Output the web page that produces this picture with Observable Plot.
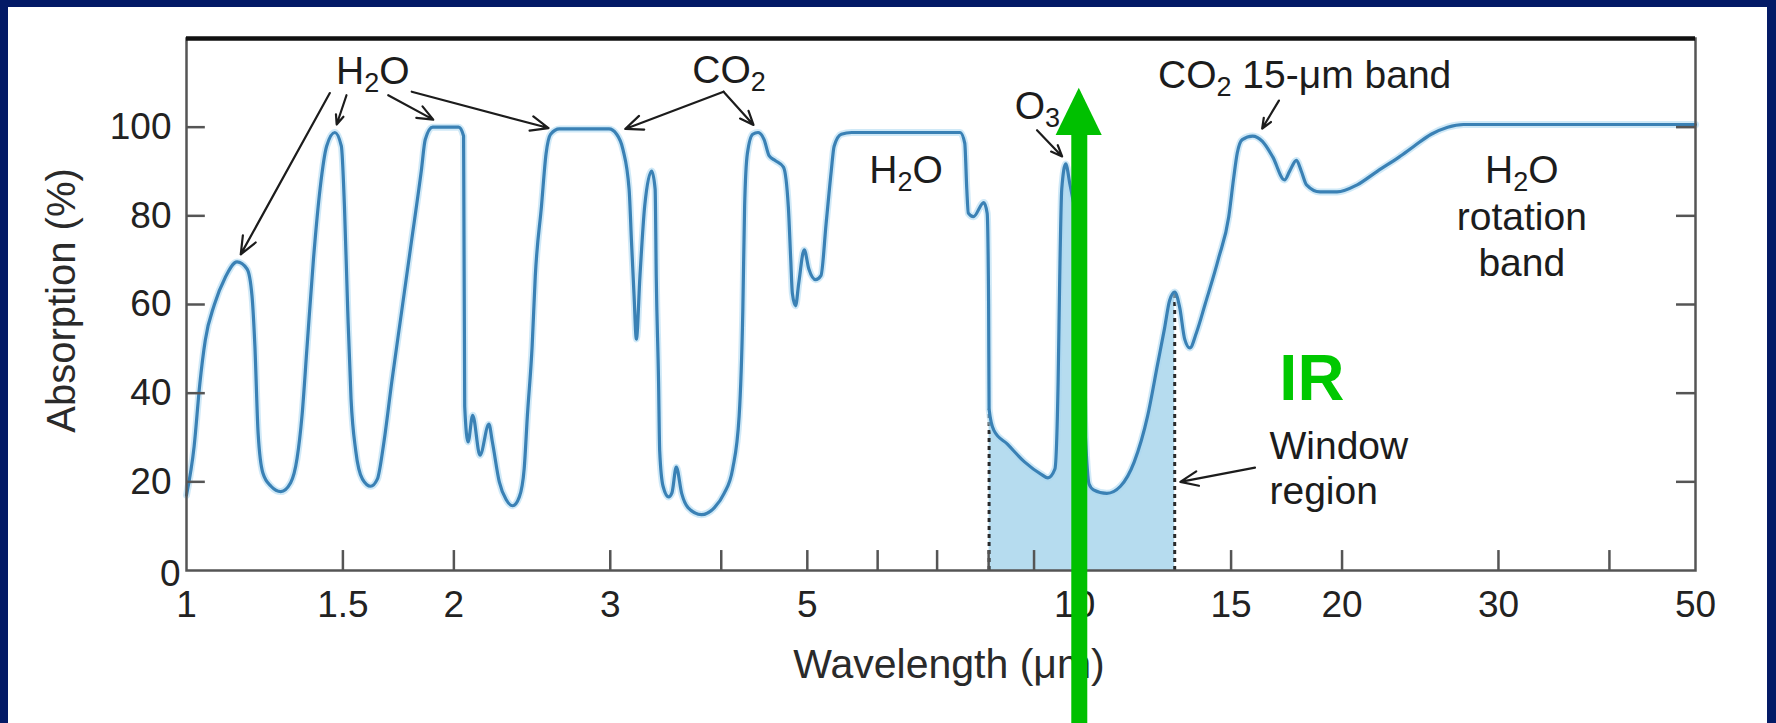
<!DOCTYPE html>
<html>
<head>
<meta charset="utf-8">
<script src="https://cdn.jsdelivr.net/npm/d3@7"></script>
<script src="https://cdn.jsdelivr.net/npm/@observablehq/plot@0.6"></script>
<style>
  html, body { margin: 0; padding: 0; width: 1776px; height: 723px; overflow: hidden; background: #031a66; }
  #wrap { position: absolute; left: 8px; top: 7px; width: 1759px; height: 716px; background: #ffffff; }
  #wrap svg { display: block; }
</style>
</head>
<body>
<div id="wrap"></div>
<script>
// ---- data ----
const wavelength = [1.00,1.02,1.035,1.05,1.075,1.105,1.14,1.17,1.185,1.194,1.204,
  1.219,1.245,1.277,1.310,1.332,1.349,1.367,1.390,1.414,1.438,
  1.469,1.494,1.506,1.519,1.532,1.551,1.578,1.612,1.640,1.667,
  1.703,1.747,1.792,1.838,1.857,1.893,2.025,2.051,2.057,2.075,
  2.10,2.14,2.19,2.21,2.25,2.29,2.33,2.37,2.40,2.42,
  2.45,2.47,2.51,2.54,2.57,2.63,2.99,3.05,3.10,3.15,
  3.17,3.19,3.21,3.24,3.28,3.34,3.37,3.38,3.40,3.41,
  3.44,3.49,3.52,3.56,3.61,3.67,3.80,3.93,4.03,4.12,
  4.19,4.23,4.25,4.28,4.34,4.40,4.47,4.53,4.60,4.70,
  4.76,4.79,4.81,4.85,4.89,4.96,5.02,5.11,5.18,5.25,
  5.32,5.36,5.46,5.61,7.43,7.52,7.56,7.59,7.69,7.90,
  7.97,8.00,8.01,8.11,8.40,8.78,9.17,9.33,9.50,9.58,
  9.62,9.67,9.77,9.88,9.97,10.05,10.2,10.38,10.50,10.87,
  11.26,11.67,12.08,12.40,12.62,12.79,12.96,13.13,13.30,13.48,
  13.72,14.02,14.52,14.91,15.10,15.24,15.44,15.86,16.27,16.71,
  17.23,17.46,17.77,18.00,18.24,18.89,19.74,20.80,21.93,23.2,
  24.1,25.2,26.3,27.4,50];
const absorption = [17,28,42,52,60,66,69.6,68,62,50.6,31,
  22,19,17.8,19.8,25.3,34.8,50.6,70.4,86.2,95.7,
  98.8,95.7,82.2,58.5,38.7,26.9,20.6,19.0,20.6,28.5,
  42.7,58.5,74.3,90.1,97.2,100,100,98,37,29,
  35,26,33,29,20,16,14.6,16.6,23,35,
  50.6,66.4,82.2,94,98.4,99.6,99.6,98.4,95,86,
  74,62.5,52.2,66.4,82.2,90.1,86,66,42.7,27,
  19,16.6,17.5,23.3,17.4,14.2,12.6,14.2,17.4,22.9,
  34.8,58.5,82.2,94,98.4,98.8,97.2,93.5,92.5,91,
  82,70,62.5,59.7,64.8,72.3,68,65.6,66.5,78.3,
  90.1,95.7,98.4,98.8,98.8,96.4,86,80.6,79.8,83,
  80.6,60,36.4,31.6,28.5,24.5,21.7,20.9,22.9,42.7,
  66.4,86,91.7,87,83,80,45,19.5,18.2,17.4,
  19,24.5,34.8,46.6,54.5,60.9,62.8,59.3,52.2,50.2,
  53.8,60,70.4,79.8,88.5,94.1,97.2,98,96.8,93.3,
  88.1,90.1,92.5,90,87,85.4,85.4,87,90.1,93.3,
  95.7,98.4,100,100.6,100.6];

const windowStart = 8.01;   // IR window region (µm)
const windowEnd = 12.96;

const xLabelTicks = [1, 1.5, 2, 3, 5, 10, 15, 20, 30, 50];
const xMinorTicks = [1.5, 2, 3, 4, 5, 6, 7, 8, 9, 10, 15, 20, 30, 40];
const yLabelTicks = [20, 40, 60, 80, 100];
const yZeroTick = [0];
const yMinorTicks = [20, 40, 60, 80, 100];

// annotation labels (wavelength, absorption anchor)
const noteText   = ["H₂O", "CO₂", "O₃", "H₂O", "CO₂ 15-μm band", "H₂O", "rotation", "band"];
const noteX      = [1.621, 4.082, 9.08, 6.46, 18.15, 31.87, 31.87, 31.87];
const noteY      = [109.7, 109.9, 101.8, 87.4, 108.8, 87.4, 76.7, 66.5];
const windowText = ["Window", "region"];
const windowX    = [16.57, 16.57];
const windowY    = [25.2, 15.1];

// annotation arrows: from -> to
const arrowX1 = [1.450, 1.514, 1.687, 1.793, 4.024, 4.024, 9.07, 16.98, 15.96];
const arrowY1 = [107.7, 107.2, 107.2, 108.0, 108.0, 108.0, 99.3, 106.0, 23.2];
const arrowX2 = [1.151, 1.476, 1.896, 2.556, 3.118, 4.349, 9.68, 16.26, 13.15];
const arrowY2 = [71.3, 100.6, 101.7, 99.8, 99.6, 100.5, 93.4, 99.7, 20.0];

// the green IR marker
const irLabel = ["IR"];
const irLabelX = [17.0];
const irLabelY = [38.4];
const irArrowX = 10.12;
const irArrowHeadX = [9.53, 10.12, 10.74];
const irArrowHeadTop = [98.1, 108.8, 98.1];
const irArrowBase = 98.1;
const irArrowBottom = -35;

// ---- build tables ----
const spectrum = wavelength.map((w, i) => ({w, a: absorption[i]}));
const windowPart = spectrum.filter(d => d.w >= windowStart && d.w <= windowEnd);
const windowEdges = spectrum.filter(d => d.w === windowStart || d.w === windowEnd);
const notes = noteText.map((t, i) => ({t, x: noteX[i], y: noteY[i]}));
const winNotes = windowText.map((t, i) => ({t, x: windowX[i], y: windowY[i]}));
const arrows = arrowX1.map((x1, i) => ({x1, y1: arrowY1[i], x2: arrowX2[i], y2: arrowY2[i]}));
const irHead = irArrowHeadX.map((x, i) => ({x, top: irArrowHeadTop[i]}));
const irText = irLabel.map((t, i) => ({t, x: irLabelX[i], y: irLabelY[i]}));

const ink = "#1c1c1c";
const axisGray = "#555";
const green = "#00c000";

const chart = Plot.plot({
  width: 1759,
  height: 716,
  marginLeft: 178,
  marginRight: 72,
  marginTop: 31,
  marginBottom: 153,
  x: {type: "log", domain: [1, 50], label: null},
  y: {domain: [0, 120], label: null},
  style: {fontFamily: "'Liberation Sans', Arial, Helvetica, sans-serif", background: "white", overflow: "visible"},
  marks: [
    // window fill
    Plot.areaY(windowPart, {x: "w", y: "a", curve: "monotone-x", fill: "#b6dcef"}),
    Plot.ruleX(windowEdges, {x: "w", y1: 0, y2: "a", stroke: "#2a2a2a", strokeWidth: 3, strokeDasharray: "4,4"}),
    // spectrum curve with soft halo
    Plot.line(spectrum, {x: "w", y: "a", curve: "monotone-x", stroke: "#a9d7f0", strokeWidth: 7, strokeOpacity: 0.55}),
    Plot.line(spectrum, {x: "w", y: "a", curve: "monotone-x", stroke: "#3a81b5", strokeWidth: 3.2}),
    // frame
    Plot.frame({stroke: axisGray, strokeWidth: 2.5}),
    Plot.ruleY([120], {stroke: "#111", strokeWidth: 4.5}),
    // inward ticks
    Plot.ruleX(xMinorTicks, {x: d => d, y1: 0, y2: 4.5, stroke: axisGray, strokeWidth: 2.5}),
    Plot.ruleY(yMinorTicks, {y: d => d, x1: 1, x2: 1.05, stroke: axisGray, strokeWidth: 2.5}),
    Plot.ruleY(yMinorTicks, {y: d => d, x1: 47.6, x2: 50, stroke: axisGray, strokeWidth: 2.5}),
    // tick labels
    Plot.axisX({ticks: xLabelTicks, tickSize: 0, tickPadding: 20, fontSize: 37, tickFormat: d => String(d), fill: "#222", label: null}),
    Plot.axisY({ticks: yLabelTicks, tickSize: 0, tickPadding: 15, fontSize: 37, tickFormat: d => String(d), fill: "#222", label: null}),
    Plot.axisY({ticks: yZeroTick, tickSize: 0, tickPadding: 6, dy: 4, fontSize: 37, tickFormat: d => String(d), fill: "#222", label: null}),
    // axis titles
    Plot.text(["Wavelength (μm)"], {frameAnchor: "bottom", textAnchor: "middle", dx: 8, dy: 107, lineAnchor: "bottom", fontSize: 41, fill: "#2a2a2a"}),
    Plot.text(["Absorption (%)"], {frameAnchor: "left", textAnchor: "middle", rotate: -90, dx: -124, dy: -4, lineAnchor: "middle", fontSize: 40, fill: "#2a2a2a"}),
    // annotations
    Plot.arrow(arrows, {x1: "x1", y1: "y1", x2: "x2", y2: "y2", stroke: ink, strokeWidth: 2.2, headLength: 13, headAngle: 45}),
    Plot.text(notes, {x: "x", y: "y", text: "t", textAnchor: "middle", lineAnchor: "bottom", fontSize: 39, fill: ink}),
    Plot.text(winNotes, {x: "x", y: "y", text: "t", textAnchor: "start", lineAnchor: "bottom", fontSize: 39, fill: ink}),
    // IR marker
    Plot.text(irText, {x: "x", y: "y", text: "t", textAnchor: "start", lineAnchor: "bottom", fontSize: 65, fontWeight: "bold", fill: "#00c800"}),
    Plot.ruleX([irArrowX], {x: d => d, y1: irArrowBottom, y2: irArrowBase, stroke: green, strokeWidth: 16}),
    Plot.areaY(irHead, {x: "x", y1: irArrowBase, y2: "top", curve: "linear", fill: green})
  ]
});

// chemical subscripts as real tspans
const subDigits = {"₂": "2", "₃": "3"};
chart.querySelectorAll("text").forEach(t => {
  const s = t.textContent;
  if (!/[₂₃]/.test(s)) return;
  t.textContent = "";
  let down = false;
  for (const part of s.split(/([₂₃])/)) {
    if (!part) continue;
    const ts = document.createElementNS("http://www.w3.org/2000/svg", "tspan");
    if (subDigits[part]) {
      ts.textContent = subDigits[part];
      ts.setAttribute("font-size", "27");
      ts.setAttribute("dy", "8");
      down = true;
    } else {
      ts.textContent = part;
      if (down) { ts.setAttribute("dy", "-8"); down = false; }
    }
    t.appendChild(ts);
  }
});

document.getElementById("wrap").appendChild(chart);
</script>
</body>
</html>
